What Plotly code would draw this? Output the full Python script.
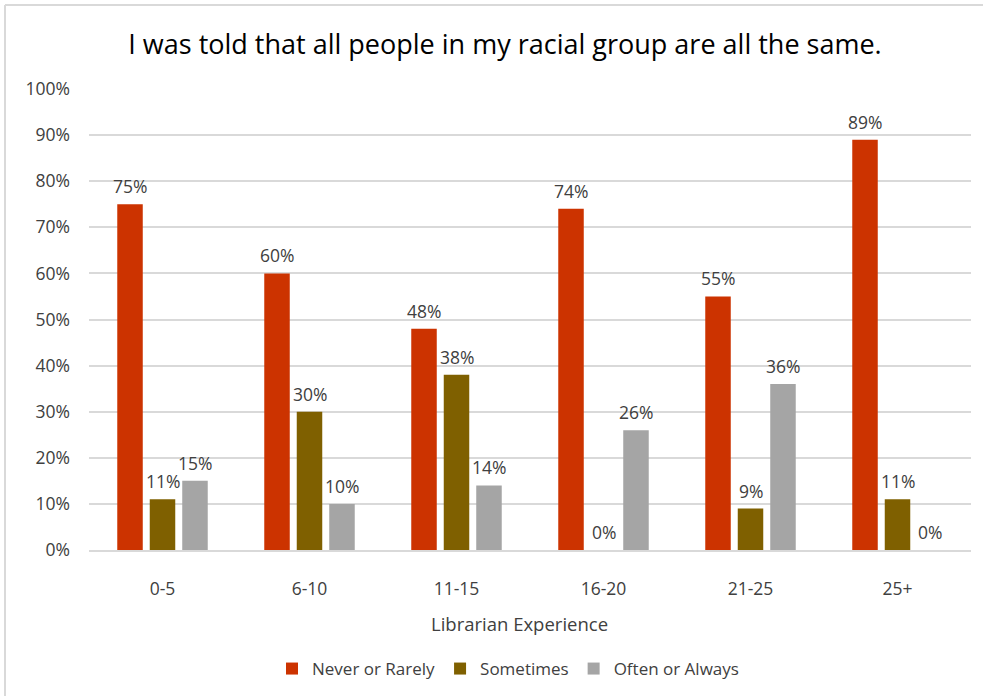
import plotly.graph_objects as go

# Survey responses by years of librarian experience (percent of respondents)
categories = ["0-5", "6-10", "11-15", "16-20", "21-25", "25+"]
never_rarely = [75, 60, 48, 74, 55, 89]
sometimes = [11, 30, 38, 0, 9, 11]
often_always = [15, 10, 14, 26, 36, 0]

series_names = ["Never or Rarely", "Sometimes", "Often or Always"]
series_values = [never_rarely, sometimes, often_always]
series_colors = ["#CC3300", "#7F6000", "#A5A5A5"]

y_ticks = list(range(0, 101, 10))
y_tick_text = [f"{v}%" for v in y_ticks]

FONT = "Open Sans"
W, H = 983, 696
ML, MR, MT, MB = 89, 12, 89, 146
plot_w = W - ML - MR
plot_h = H - MT - MB

fig = go.Figure()
for name, vals, col in zip(series_names, series_values, series_colors):
    fig.add_trace(go.Bar(
        name=name,
        x=categories,
        y=vals,
        marker=dict(color=col, line=dict(width=0)),
    ))

# value labels above each bar, offset to the bar's slot inside its group
slot_px = plot_w / len(categories) * (1 - 0.337) / 3
for i, vals in enumerate(series_values):
    for cat, v in zip(categories, vals):
        fig.add_annotation(
            x=cat, y=v, xref="x", yref="y",
            text=f"{v}%", showarrow=False,
            xshift=(i - 1) * slot_px, yshift=4,
            yanchor="bottom",
            font=dict(family=FONT, size=17.5, color="#404040"),
        )

def px_to_paper_x(px):
    return (px - ML) / plot_w

def px_to_paper_y(py):
    return (H - MB - py) / plot_h

# axis title
fig.add_annotation(
    text="Librarian Experience", showarrow=False,
    xref="paper", yref="paper",
    x=px_to_paper_x(519), y=px_to_paper_y(623),
    xanchor="center", yanchor="middle",
    font=dict(family=FONT, size=18.5, color="#404040"),
)

# chart frame (left and top edges visible)
frame_col = "#D9D9D9"
fig.add_shape(type="line", xref="paper", yref="paper",
              x0=px_to_paper_x(5), x1=px_to_paper_x(5),
              y0=px_to_paper_y(H + 10), y1=px_to_paper_y(5),
              line=dict(color=frame_col, width=2))
fig.add_shape(type="line", xref="paper", yref="paper",
              x0=px_to_paper_x(5), x1=px_to_paper_x(W + 10),
              y0=px_to_paper_y(5), y1=px_to_paper_y(5),
              line=dict(color=frame_col, width=2))

fig.update_layout(
    width=W, height=H,
    margin=dict(l=ML, r=MR, t=MT, b=MB, autoexpand=False),
    paper_bgcolor="white", plot_bgcolor="white",
    barmode="group", bargap=0.337, bargroupgap=0.215,
    title=dict(
        text="I was told that all people in my racial group are all the same.",
        x=505 / W, xanchor="center",
        y=1 - 45 / H, yanchor="middle",
        font=dict(family=FONT, size=27, color="#000000"),
    ),
    xaxis=dict(
        showgrid=False, showline=True, linecolor="#D9D9D9", linewidth=1.5,
        ticks="", ticklabelstandoff=22, automargin=False,
        tickfont=dict(family=FONT, size=17.5, color="#404040"),
    ),
    yaxis=dict(
        range=[0, 100], tickvals=y_ticks, ticktext=y_tick_text,
        showgrid=True, gridcolor="#D9D9D9", gridwidth=1.5,
        zeroline=False, showline=False, ticks="",
        ticklabelstandoff=18, automargin=False,
        tickfont=dict(family=FONT, size=17.5, color="#404040"),
    ),
    legend=dict(
        orientation="h", x=px_to_paper_x(508), xanchor="center",
        y=px_to_paper_y(669), yanchor="middle",
        font=dict(family=FONT, size=17, color="#404040"),
        itemsizing="constant", traceorder="normal",
    ),
    showlegend=True,
)

fig.write_html("out.html")
